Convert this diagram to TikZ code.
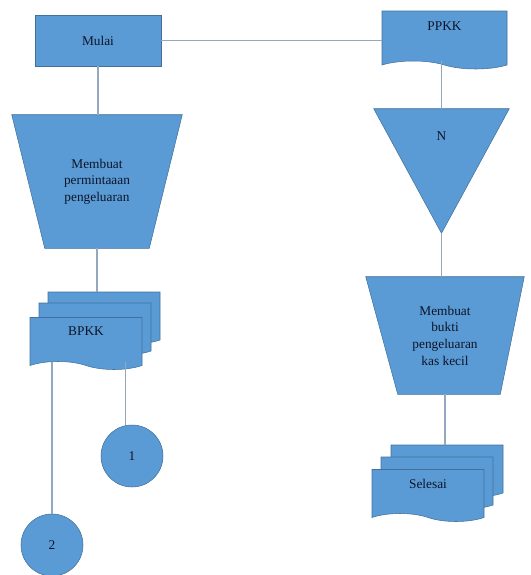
\documentclass[tikz,border=0pt]{standalone}
\usepackage{fontspec}
\setmainfont{Liberation Serif}
\usetikzlibrary{
    shapes,
    shapes.symbols,
    positioning,
    calc,
    backgrounds,
}
\definecolor{boxblue}{HTML}{5B9BD5}
\definecolor{boxedge}{HTML}{41719C}
\definecolor{flowline}{HTML}{95A8BF}
\definecolor{boxtext}{HTML}{0B1428}

\begin{document}
\begin{tikzpicture}[
    x=0.75pt, y=-0.75pt,
    font=\fontsize{10}{12.5}\selectfont,
    startbox/.style={draw=boxedge, fill=boxblue, text=boxtext, align=center,
                minimum width=94.5pt, minimum height=38.25pt},
    docsheet/.style={tape, draw=boxedge, fill=boxblue, text=boxtext, align=center,
                tape bend top=none, tape bend bottom=out and in, tape bend height=6pt,
                minimum width=84pt, minimum height=39pt, text depth=12pt},
    opbox/.style={text=boxtext, align=center},
    mergebox/.style={text=boxtext, align=center, minimum width=101.25pt, minimum height=93pt},
    connector/.style={draw=boxedge, circle, fill=boxblue, text=boxtext,
                minimum size=46.5pt, inner sep=0pt},
    shapefill/.style={draw=boxedge, fill=boxblue},
    flow/.style={draw=flowline, line width=1pt},
]
\useasboundingbox (0,0) rectangle (531,575);

% Start
\node[startbox] at (98,40.5) (Mulai) {Mulai};

% PPKK document
\node[docsheet, minimum width=93.75pt, minimum height=43.5pt, text depth=15pt] at (444.5,36) (PPKK) {PPKK};

% Manual operation (left)
\node[opbox, minimum width=127.5pt, minimum height=99.75pt] at (97,181.5) (Permintaan) {Membuat\\permintaaan\\pengeluaran};

% BPKK documents
\node[docsheet] at (104,314) (BPKKc) {};
\node[docsheet] at (95,325) (BPKKb) {};
\node[docsheet] at (86,339.5) (BPKKa) {BPKK};

% Off-page connectors
\node[connector] at (132,456) (ConnOne) {1};
\node[connector] at (52,545) (ConnTwo) {2};

% Merge
\node[mergebox, text depth=52pt] at (441.5,171) (Arsip) {N};

% Manual operation (right)
\node[opbox, minimum width=118.5pt, minimum height=87.75pt] at (445,335.5) (Bukti) {Membuat\\bukti\\pengeluaran\\kas kecil};

% Selesai documents
\node[docsheet] at (447,467) (Selesaic) {};
\node[docsheet] at (437,479) (Selesaib) {};
\node[docsheet] at (428,491.5) (Selesaia) {Selesai};

% Shapes behind the texts
\begin{scope}[on background layer]
\path[shapefill] (Permintaan.north west) -- (Permintaan.north east)
    -- ([xshift=-24.75pt]Permintaan.south east) -- ([xshift=24.75pt]Permintaan.south west) -- cycle;
\path[shapefill] (Arsip.north west) -- (Arsip.north east) -- (Arsip.south) -- cycle;
\path[shapefill] (Bukti.north west) -- (Bukti.north east)
    -- ([xshift=-18pt]Bukti.south east) -- ([xshift=24pt]Bukti.south west) -- cycle;
\end{scope}

% Lines
\draw[flow] (Mulai.east) -- (Mulai.east -| PPKK.west);
\draw[flow] (Mulai.south) -- (Mulai.south |- Permintaan.north);
\draw[flow] (Permintaan.south) -- (Permintaan.south |- BPKKc.north);
\draw[flow] (ConnTwo.north |- BPKKa.south) -- (ConnTwo.north);
\draw[flow] ([xshift=-5pt]ConnOne.north |- BPKKa.south) -- ([xshift=-5pt]ConnOne.north);
\draw[flow] (Arsip.north |- PPKK.south) -- (Arsip.north);
\draw[flow] (Arsip.south) -- (Arsip.south |- Bukti.north);
\draw[flow] (Bukti.south) -- (Bukti.south |- Selesaic.north);

\end{tikzpicture}
\end{document}
